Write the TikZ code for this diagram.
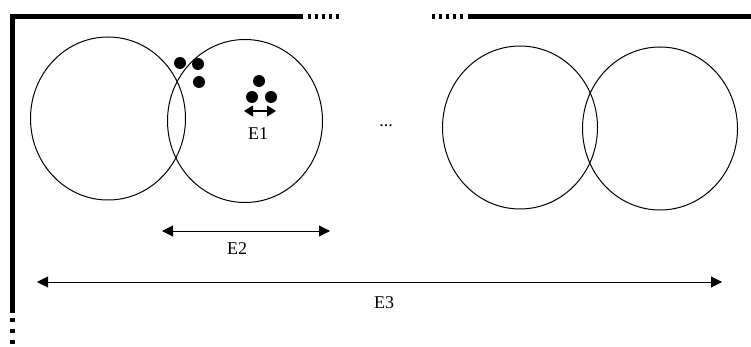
\documentclass[tikz,border=0pt]{standalone}
\usepackage{fontspec}
\setmainfont{Liberation Serif}
\usetikzlibrary{shapes.geometric}
\usetikzlibrary{arrows.meta}
\usetikzlibrary{positioning}

\begin{document}
\begin{tikzpicture}[
  x=1pt, y=-1pt,
  ring/.style={ellipse, draw, line width=1pt, minimum width=155pt, minimum height=163pt, inner sep=0pt},
  ball/.style={circle, fill, minimum size=12pt, inner sep=0pt},
  lbl/.style={font=\fontsize{18}{21}\selectfont, anchor=base, inner sep=0pt},
  span/.style={{Triangle[length=11pt, width=11pt]}-{Triangle[length=11pt, width=11pt]}, line width=1pt},
  wall/.style={line width=5pt},
]
\useasboundingbox (0,0) rectangle (751,347);

% Frame (thick border, broken into dots)
\draw[wall, line join=miter] (303,16.5) -- (12,16.5) -- (12,313);
\draw[wall, dash pattern=on 3pt off 4pt] (308,16.5) -- (339,16.5);
\draw[wall, dash pattern=on 4pt off 7pt] (12,318) -- (12,346);
\draw[wall, dash pattern=on 3pt off 4pt] (432,16.5) -- (464,16.5);
\draw[wall] (468,16.5) -- (751,16.5);

% Rings
\node[ring] (r1) at (108,118.5) {};
\node[ring] (r2) at (245,121) {};
\node[ring] (r3) at (520,127.5) {};
\node[ring] (r4) at (660,128.5) {};

% Balls - left group
\node[ball] (b1) at (180,63) {};
\node[ball] (b2) at (198,64) {};
\node[ball] (b3) at (199,82) {};

% Balls - right group
\node[ball] (b4) at (259,81) {};
\node[ball] (b5) at (252,97) {};
\node[ball] (b6) at (271,97) {};

% Arrow ends
\coordinate (e1l) at (244,111);
\coordinate (e1r) at (276,111);
\coordinate (e2l) at (162,231);
\coordinate (e2r) at (330,231);
\coordinate (e3l) at (37,282);
\coordinate (e3r) at (722,282);

% Arrows
\draw[{Triangle[length=9pt, width=11pt]}-{Triangle[length=9pt, width=11pt]}, line width=1.2pt] (e1l) -- (e1r);
\draw[span] (e2l) -- (e2r);
\draw[span] (e3l) -- (e3r);

% Labels
\node[lbl] (t1) at (258,140) {E1};
\node[lbl] (t2) at (237,254) {E2};
\node[lbl] (t3) at (384,308) {E3};
\node[lbl] (dots) at (386,127) {...};

\end{tikzpicture}
\end{document}
